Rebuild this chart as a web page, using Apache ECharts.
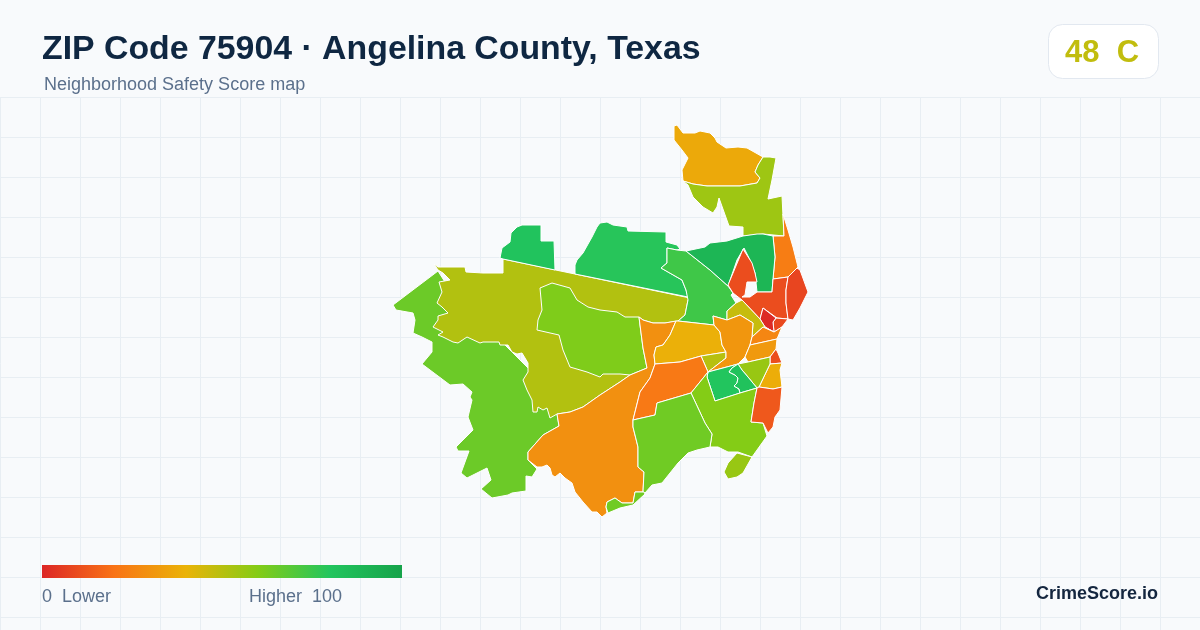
<!DOCTYPE html>
<html><head><meta charset="utf-8">
<style>html,body{margin:0;padding:0;background:#f8fafc}#c{width:1200px;height:630px}</style>
<script src="https://cdn.jsdelivr.net/npm/echarts@6/dist/echarts.min.js"></script>
</head><body><div id="c"></div>
<script>
const titleText = 'ZIP Code 75904 · Angelina County, Texas';
const subtitleText = 'Neighborhood Safety Score map';
const gradeText = '48  C';
const scaleLow = '0  Lower';
const scaleHigh = 'Higher  100';
const brandText = 'CrimeScore.io';
const scaleColors = ['#dc2626','#f97316','#eab308','#84cc16','#22c55e','#16a34a'];

const regionScores = {
 ac:65, ab:51, x:61, ad:81, ae:79, aa:74, a:37, b:55, c:23, d:89, e:10, f:8, g2:9, g:1, h:47,
 t:29, y:39, z:50, v:22, i:31, j:26, k:32, l:10, m:38, n:56, o1:80, o2:82, p:60, q:56, r:13, s:64, u:64
};
const regionShapes = {
 ac:[[438,271],[393,305],[396,310],[413,313],[415,320],[413,333],[422,337],[432,342],[432,352],[422,364],[450,385],[463,384],[472,392],[470,397],[472,400],[468,417],[473,430],[456,447],[458,451],[469,451],[461,473],[467,478],[487,468],[491,480],[481,489],[492,498],[508,495],[512,493],[526,491],[526,476],[532,477],[537,469],[528,460],[528,452],[543,435],[559,426],[557,414],[540,380],[480,320],[450,290]],
 ab:[[434,264],[438,267],[465,267],[466,272],[483,273],[503,273],[503,259],[690,298],[688,300],[685,315],[678,321],[665,323],[653,323],[643,320],[639,317],[645,360],[647,368],[630,375],[620,382],[600,395],[583,407],[570,412],[557,414],[550,418],[547,408],[543,410],[538,407],[537,412],[533,412],[532,400],[527,390],[523,380],[528,372],[528,363],[522,353],[517,354],[512,352],[508,345],[500,345],[499,342],[483,342],[480,343],[467,337],[458,343],[453,342],[443,337],[438,335],[443,332],[433,327],[438,320],[438,316],[448,313],[442,307],[437,303],[442,292],[439,282],[450,280],[443,273],[438,270]],
 x:[[540,288],[552,283],[570,288],[577,300],[588,307],[600,310],[617,312],[625,317],[639,317],[640,325],[643,348],[647,368],[630,375],[620,374],[603,374],[600,377],[587,372],[570,367],[563,350],[559,335],[537,330],[538,320],[542,310]],
 ad:[[500,258],[502,248],[510,242],[511,233],[517,227],[522,225],[541,225],[541,241],[554,241],[555,270],[503,259]],
 ae:[[575,265],[577,260],[583,253],[592,237],[597,227],[600,223],[607,222],[613,225],[627,227],[628,231],[666,232],[666,242],[677,245],[680,249],[677,250],[667,248],[667,263],[661,268],[682,280],[686,290],[688,297],[575,274]],
 aa:[[667,248],[677,250],[686,251],[710,270],[728,286],[733,293],[731,295],[736,303],[727,311],[727,320],[713,316],[714,325],[678,321],[685,315],[688,300],[686,290],[682,280],[661,268],[667,263]],
 a:[[674,126],[677,125],[683,133],[695,133],[700,131],[710,133],[715,138],[717,142],[726,148],[738,147],[747,148],[763,157],[758,165],[755,172],[760,178],[757,183],[740,186],[723,186],[707,186],[693,184],[683,181],[682,170],[688,158],[682,150],[674,140]],
 b:[[763,157],[770,157],[776,158],[772,180],[768,199],[782,196],[784,236],[763,234],[743,236],[743,227],[729,226],[719,198],[717,207],[713,213],[703,207],[693,197],[688,185],[683,181],[693,184],[707,186],[723,186],[740,186],[757,183],[760,178],[755,172],[758,165]],
 c:[[783,214],[788,230],[793,247],[798,267],[788,277],[773,279],[775,257],[773,236],[784,236]],
 d:[[686,251],[705,247],[710,243],[727,241],[743,236],[757,234],[763,234],[773,236],[775,257],[773,279],[772,292],[757,292],[755,273],[750,260],[744,248],[737,260],[728,286],[710,270]],
 e:[[743,249],[752,263],[755,273],[757,282],[747,282],[745,295],[742,297],[750,297],[757,292],[772,292],[773,279],[788,277],[786,290],[786,303],[788,319],[777,318],[763,308],[760,319],[742,300],[733,293],[728,285]],
 f:[[788,277],[797,268],[800,270],[808,292],[800,308],[793,320],[788,319],[786,303],[786,290]],
 g2:[[776,318],[788,319],[782,327],[774,332],[773,322]],
 g:[[763,308],[776,318],[773,322],[774,332],[765,327],[760,319]],
 h:[[727,311],[736,303],[742,300],[760,319],[765,327],[774,332],[763,327],[752,337],[753,323],[740,315],[727,320]],
 t:[[676,321],[665,323],[653,323],[643,320],[639,317],[640,325],[643,348],[647,368],[630,375],[620,382],[600,395],[583,407],[570,412],[557,414],[559,426],[543,435],[528,452],[528,460],[537,467],[542,467],[547,465],[550,468],[552,475],[555,477],[560,473],[565,478],[572,483],[575,492],[583,502],[592,512],[597,512],[602,517],[607,513],[606,507],[607,502],[615,498],[622,503],[633,503],[635,492],[643,492],[644,472],[638,467],[638,447],[637,443],[633,427],[633,420],[635,412],[640,392],[650,378],[655,364],[654,355],[656,347],[663,345],[670,335]],
 y:[[654,355],[656,347],[663,345],[670,335],[676,321],[678,321],[714,325],[720,332],[722,345],[726,352],[701,356],[680,362],[655,364]],
 z:[[701,356],[726,352],[726,358],[708,372]],
 v:[[655,364],[680,362],[701,356],[708,372],[691,393],[657,403],[655,415],[633,420],[635,412],[640,392],[650,378]],
 i:[[713,316],[727,320],[740,315],[753,323],[752,337],[750,345],[745,357],[738,364],[708,372],[726,358],[726,352],[722,345],[720,332],[714,325]],
 j:[[752,337],[763,327],[774,332],[782,327],[777,339],[750,345]],
 k:[[750,345],[777,339],[776,349],[770,357],[748,362],[745,357]],
 l:[[776,349],[778,353],[782,363],[770,364],[770,357]],
 m:[[770,364],[782,363],[780,370],[782,387],[773,389],[759,387]],
 n:[[738,364],[748,362],[770,357],[770,364],[759,387],[757,388],[748,377],[742,370]],
 o1:[[708,372],[738,364],[732,368],[729,372],[735,375],[738,378],[737,383],[734,386],[739,389],[740,393],[715,401],[712,392],[707,377]],
 o2:[[738,364],[742,370],[748,377],[757,388],[740,393],[739,389],[734,386],[737,383],[738,378],[735,375],[729,372],[732,368]],
 p:[[691,393],[708,372],[707,377],[712,392],[715,401],[740,393],[757,388],[754,403],[751,422],[763,423],[767,436],[752,457],[738,452],[728,452],[718,447],[710,447],[712,434],[705,423],[698,408]],
 q:[[737,453],[752,457],[743,473],[737,477],[728,479],[724,472],[728,463]],
 r:[[757,388],[759,387],[773,389],[782,387],[780,410],[775,417],[773,427],[768,433],[763,423],[751,422],[754,403]],
 s:[[633,420],[655,415],[657,403],[691,393],[698,408],[705,423],[712,434],[710,447],[697,450],[688,453],[678,463],[670,473],[662,483],[652,485],[645,493],[643,492],[644,472],[638,467],[638,447],[637,443],[633,427]],
 u:[[607,502],[615,498],[622,503],[633,503],[635,492],[644,492],[645,494],[633,505],[620,508],[608,513],[606,507]]
};
const regionNames = Object.keys(regionShapes);

echarts.registerMap('zip75904', {
  type:'FeatureCollection',
  features: regionNames.map(n => ({type:'Feature',properties:{name:n},
    geometry:{type:'Polygon',coordinates:[regionShapes[n].concat([regionShapes[n][0]])]}}))
});

const chart = echarts.init(document.getElementById('c'), null, {renderer:'canvas'});
const sans = 'Liberation Sans';
chart.setOption({
  animation:false,
  backgroundColor:'#f8fafc',
  title:[
    {text:titleText,left:42,top:33,padding:0,textStyle:{fontFamily:sans,fontSize:33.85,fontWeight:'bold',color:'#0f2742'}},
    {text:subtitleText,left:44,top:76,padding:0,textStyle:{fontFamily:sans,fontSize:18,fontWeight:'normal',color:'#5b708c'}},
    {text:gradeText,left:1065,top:38,padding:0,textStyle:{fontFamily:sans,fontSize:31,fontWeight:'bold',color:'#c1bd0e'}},
    {text:scaleLow,left:42,top:588,padding:0,textStyle:{fontFamily:sans,fontSize:18,fontWeight:'normal',color:'#5b708c'}},
    {text:scaleHigh,left:249,top:588,padding:0,textStyle:{fontFamily:sans,fontSize:18,fontWeight:'normal',color:'#5b708c'}},
    {text:brandText,right:42,top:585,padding:0,textStyle:{fontFamily:sans,fontSize:18,fontWeight:'bold',color:'#14263f'}}
  ],
  grid:{left:0,top:97,width:1200,height:533},
  xAxis:{type:'value',min:0,max:1200,interval:40,axisLine:{show:false},axisTick:{show:false},axisLabel:{show:false},
    splitLine:{show:true,lineStyle:{color:'#e8eef3',width:1}}},
  yAxis:{type:'value',min:0,max:533,interval:40,inverse:true,axisLine:{show:false},axisTick:{show:false},axisLabel:{show:false},
    splitLine:{show:true,lineStyle:{color:'#e8eef3',width:1}}},
  graphic:[
    {type:'rect',z:1,shape:{x:1048.5,y:24.5,width:110,height:54,r:14},style:{fill:'#fff',stroke:'#e2e8f0',lineWidth:1}},
    {type:'rect',z:1,shape:{x:42,y:565,width:360,height:13},
      style:{fill:new echarts.graphic.LinearGradient(0,0,1,0,scaleColors.map((c,i)=>({offset:i/(scaleColors.length-1),color:c})))}}
  ],
  visualMap:{type:'continuous',show:false,seriesIndex:0,min:0,max:100,inRange:{color:scaleColors}},
  series:[{type:'map',map:'zip75904',roam:false,silent:true,aspectScale:1,
    projection:{project:p=>p,unproject:p=>p},
    layoutCenter:[600.5,321],layoutSize:415,
    label:{show:false},emphasis:{disabled:true},select:{disabled:true},
    itemStyle:{borderColor:'#ffffff',borderWidth:1},
    data:regionNames.map(n=>({name:n,value:regionScores[n]}))}]
});
</script></body></html>
